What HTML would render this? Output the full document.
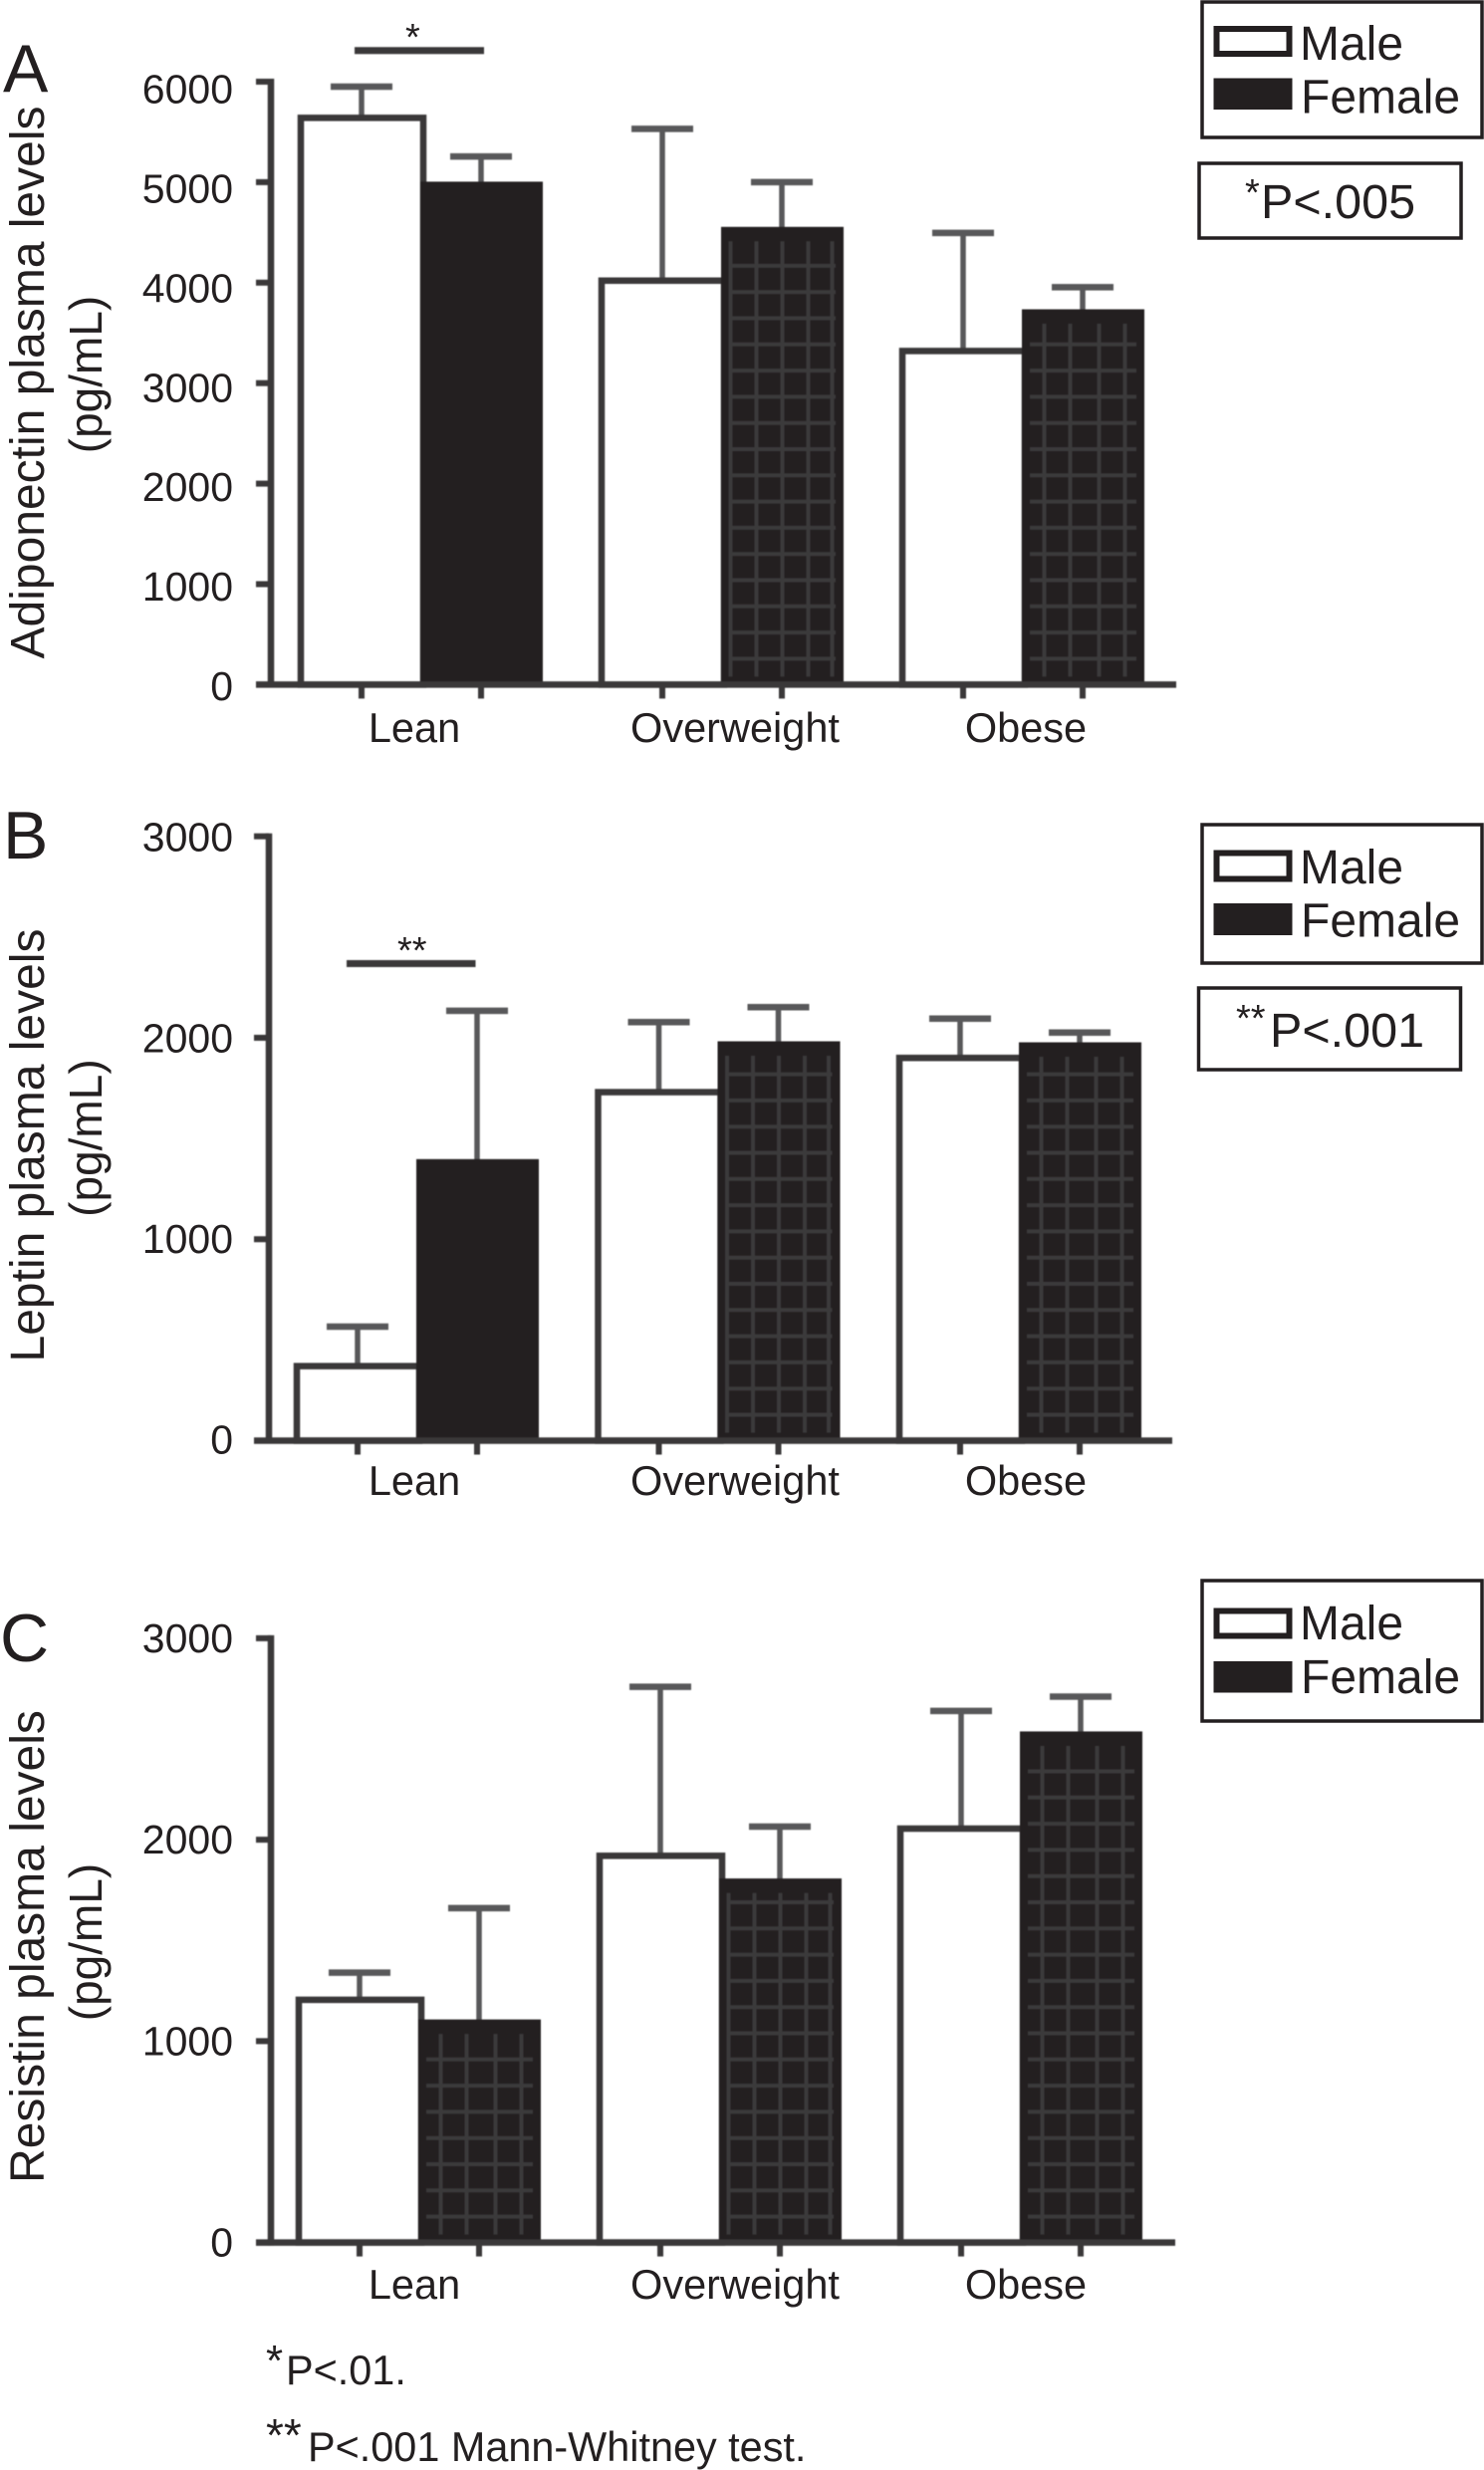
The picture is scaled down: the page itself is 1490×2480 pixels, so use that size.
<!DOCTYPE html>
<html lang="en">
<head>
<meta charset="utf-8">
<title>Adipokine plasma levels by BMI category and sex</title>
<style>
  html,body{margin:0;padding:0;background:#fff;}
  svg{display:block;}
  text{font-family:"Liberation Sans",Arial,sans-serif;fill:#231f20;}
  .marks{filter:blur(0.6px);}
  .tick{font-size:41px;text-anchor:end;}
  .cat{font-size:41.5px;text-anchor:middle;}
  .letter{font-size:68px;}
  .title{font-size:48px;text-anchor:middle;}
  .unit{font-size:46px;text-anchor:middle;}
  .leg{font-size:48px;}
  .ptext{font-size:48.5px;}
  .star{font-size:38px;}
  .foot{font-size:41.4px;}
  .box{fill:#fff;stroke:#231f20;stroke-width:3.5;}
</style>
</head>
<body>
<svg id="figure" xmlns="http://www.w3.org/2000/svg" width="1490" height="2480" viewBox="0 0 1490 2480">
  <rect x="0" y="0" width="1490" height="2480" fill="#fff"/>

  <!-- Panel letters and axis titles -->
  <text class="letter" x="3" y="92">A</text>
  <text class="letter" x="3" y="862">B</text>
  <text class="letter" x="0" y="1668">C</text>

  <text class="title" transform="translate(44 384) rotate(-90)">Adiponectin plasma levels</text>
  <text class="unit" transform="translate(102 376) rotate(-90)">(pg/mL)</text>
  <text class="title" transform="translate(44 1150) rotate(-90)">Leptin plasma levels</text>
  <text class="unit" transform="translate(102 1142.6) rotate(-90)">(pg/mL)</text>
  <text class="title" transform="translate(44 1954.5) rotate(-90)">Resistin plasma levels</text>
  <text class="unit" transform="translate(102 1950) rotate(-90)">(pg/mL)</text>

  <!-- Legends -->
  <g>
    <rect class="box" x="1207" y="2" width="281" height="136"/>
    <rect x="1221.5" y="29" width="73" height="25" fill="#fff" stroke="#231f20" stroke-width="6"/>
    <rect x="1218.5" y="78.5" width="79" height="31.5" fill="#231f20"/>
    <text class="leg" x="1305" y="60">Male</text>
    <text class="leg" x="1306" y="113.5">Female</text>
  </g>
  <g>
    <rect class="box" x="1207" y="828" width="281" height="139"/>
    <rect x="1221.5" y="856.5" width="73" height="26" fill="#fff" stroke="#231f20" stroke-width="6"/>
    <rect x="1218.5" y="907" width="79" height="32" fill="#231f20"/>
    <text class="leg" x="1305" y="887">Male</text>
    <text class="leg" x="1306" y="940.5">Female</text>
  </g>
  <g>
    <rect class="box" x="1207" y="1587" width="281" height="141"/>
    <rect x="1221.5" y="1617.5" width="73" height="25" fill="#fff" stroke="#231f20" stroke-width="6"/>
    <rect x="1218.5" y="1668" width="79" height="31.5" fill="#231f20"/>
    <text class="leg" x="1305" y="1646">Male</text>
    <text class="leg" x="1306" y="1700">Female</text>
  </g>

  <!-- P value boxes -->
  <g>
    <rect class="box" x="1204" y="164" width="263" height="75"/>
    <text class="star" x="1250" y="206">*</text>
    <text class="ptext" x="1266" y="219">P&lt;.005</text>
  </g>
  <g>
    <rect class="box" x="1203.5" y="992" width="263" height="82"/>
    <text class="star" x="1241" y="1035">**</text>
    <text class="ptext" x="1275" y="1051">P&lt;.001</text>
  </g>

  <!-- Significance brackets -->
  <g class="marks">
    <line x1="356" x2="486" y1="50.7" y2="50.7" stroke="#3a3839" stroke-width="7"/>
    <line x1="348" x2="477.5" y1="967.5" y2="967.5" stroke="#3a3839" stroke-width="7"/>
  </g>
  <text class="star" x="407" y="50">*</text>
  <text class="star" x="399" y="967">**</text>

  <!-- Footnotes -->
  <text x="267" y="2385" style="font-size:44px">*</text>
  <text class="foot" x="287" y="2394">P&lt;.01.</text>
  <text x="267" y="2461" style="font-size:46px">**</text>
  <text class="foot" x="309" y="2471">P&lt;.001 Mann-Whitney test.</text>

  <g id="charts"></g>
</svg>

<script>
// ---- data ----
const categories = ["Lean", "Overweight", "Obese"];

const adiponectinTicks = [0, 1000, 2000, 3000, 4000, 5000, 6000];
const adiponectinMale = [5640, 4020, 3320];
const adiponectinFemale = [5000, 4550, 3730];
const adiponectinMaleUpper = [5950, 5530, 4495];
const adiponectinFemaleUpper = [5255, 5000, 3955];
const adiponectinFemaleHatched = [false, true, true];

const leptinTicks = [0, 1000, 2000, 3000];
const leptinMale = [370, 1730, 1900];
const leptinFemale = [1395, 1980, 1975];
const leptinMaleUpper = [566, 2078, 2095];
const leptinFemaleUpper = [2134, 2152, 2026];
const leptinFemaleHatched = [false, true, true];

const resistinTicks = [0, 1000, 2000, 3000];
const resistinMale = [1205, 1920, 2055];
const resistinFemale = [1105, 1805, 2535];
const resistinMaleUpper = [1340, 2759, 2639];
const resistinFemaleUpper = [1660, 2065, 2710];
const resistinFemaleHatched = [true, true, true];

// ---- panel geometry ----
const panelA = {id:'a', axisX:272, axisEnd:1181, firstBar:299, groupStep:302, yMax:6000, yTop:82, yZero:687.4,
  labelTop:89.5, labelZero:689, catBaseline:745,
  ticks:adiponectinTicks, male:adiponectinMale, female:adiponectinFemale,
  maleUp:adiponectinMaleUpper, femaleUp:adiponectinFemaleUpper, hatched:adiponectinFemaleHatched};
const panelB = {id:'b', axisX:270, axisEnd:1177, firstBar:295, groupStep:302.5, yMax:3000, yTop:839.7, yZero:1446.5,
  labelTop:840.7, labelZero:1445.5, catBaseline:1501,
  ticks:leptinTicks, male:leptinMale, female:leptinFemale,
  maleUp:leptinMaleUpper, femaleUp:leptinFemaleUpper, hatched:leptinFemaleHatched};
const panelC = {id:'c', axisX:272, axisEnd:1180, firstBar:297, groupStep:302, yMax:3000, yTop:1644.9, yZero:2251.6,
  labelTop:1645, labelZero:2251.6, catBaseline:2308,
  ticks:resistinTicks, male:resistinMale, female:resistinFemale,
  maleUp:resistinMaleUpper, femaleUp:resistinFemaleUpper, hatched:resistinFemaleHatched};

const SVG_NS = 'http://www.w3.org/2000/svg';
const BAR_W = 123;
const DARK = '#231f20';
const AXIS = '#3a3839';
const ERR = '#58585a';
const HATCH = '#3b3a3b';
const HATCH_STEP = 26.3;

function mk(parent, tag, attrs) {
  const el = document.createElementNS(SVG_NS, tag);
  for (const k in attrs) el.setAttribute(k, attrs[k]);
  parent.appendChild(el);
  return el;
}

function drawHatch(g, left, top, zero, catIndex) {
  const center = left + BAR_W / 2;
  const offsets = catIndex === 1 ? [-52, -26, 0, 26, 50] : [-39, -13, 16, 42];
  offsets.forEach(function (o) {
    const v = mk(g, 'line', {x1: center + o, x2: center + o, y1: top + 14, y2: zero - 8, stroke: HATCH, 'stroke-width': 4});
    
    
  });
  for (let y = zero - 26; y > top + 18; y -= HATCH_STEP) {
    const h = mk(g, 'line', {x1: left + 8, x2: left + BAR_W - 8, y1: y, y2: y, stroke: HATCH, 'stroke-width': 4});
    
    
  }
}

function drawError(g, cx, fromY, toY) {
  const stem = mk(g, 'line', {x1: cx, x2: cx, y1: fromY, y2: toY, stroke: ERR, 'stroke-width': 5.5});
  
  
  const cap = mk(g, 'line', {x1: cx - 31, x2: cx + 31, y1: toY, y2: toY, stroke: ERR, 'stroke-width': 6.5});
  
  
}

function drawPanel(p) {
  const root = document.getElementById('charts');
  const group = mk(root, 'g', {});
  
  
  const marks = mk(group, 'g', {class: 'marks'});
  
  

  const y = function (v) { return p.yZero - (v / p.yMax) * (p.yZero - p.yTop); };
  const labelY = function (v) { return p.labelZero - (v / p.yMax) * (p.labelZero - p.labelTop) + 14; };
  const maleLeft = function (i) { return p.firstBar + i * p.groupStep; };
  const femaleLeft = function (i) { return maleLeft(i) + BAR_W; };
  const maleCenter = function (i) { return maleLeft(i) + 64; };
  const femaleCenter = function (i) { return femaleLeft(i) + 61; };

  categories.forEach(function (c, i) {
    // error bars sit behind the bars
    drawError(marks, maleCenter(i), y(p.male[i]), y(p.maleUp[i]));
    drawError(marks, femaleCenter(i), y(p.female[i]), y(p.femaleUp[i]));

    const m = mk(marks, 'rect', {x: maleLeft(i) + 3, y: y(p.male[i]), width: BAR_W, height: p.yZero - y(p.male[i]), fill: '#fff', stroke: AXIS, 'stroke-width': 6.5});
    
    

    const f = mk(marks, 'rect', {x: femaleLeft(i), y: y(p.female[i]) - 0.5, width: BAR_W, height: p.yZero - y(p.female[i]) + 0.5, fill: DARK});
    
    

    if (p.hatched[i]) drawHatch(marks, femaleLeft(i), y(p.female[i]), p.yZero, i);

    [maleCenter(i), femaleCenter(i)].forEach(function (tx) {
      const t = mk(marks, 'line', {x1: tx, x2: tx, y1: p.yZero, y2: p.yZero + 14, stroke: AXIS, 'stroke-width': 6});
      
      
    });

    const nudge = c === 'Lean' ? -7 : (c === 'Overweight' ? 13 : 3);
    const lab = mk(group, 'text', {class: 'cat', x: 423 + i * 302 + nudge, y: p.catBaseline});
    lab.textContent = c;
    
    
  });

  const yAxis = mk(marks, 'line', {x1: p.axisX, x2: p.axisX, y1: p.yTop - 3, y2: p.yZero + 3, stroke: AXIS, 'stroke-width': 6.5});
  
  
  const xAxis = mk(marks, 'line', {x1: p.axisX - 15, x2: p.axisEnd, y1: p.yZero, y2: p.yZero, stroke: AXIS, 'stroke-width': 6.5});
  
  

  p.ticks.forEach(function (t) {
    const tk = mk(marks, 'line', {x1: p.axisX - 15, x2: p.axisX, y1: y(t), y2: y(t), stroke: AXIS, 'stroke-width': 6});
    
    
    const lb = mk(group, 'text', {class: 'tick', x: 234, y: labelY(t)});
    lb.textContent = String(t);
    
    
  });
}

drawPanel(panelA);
drawPanel(panelB);
drawPanel(panelC);
</script>
</body>
</html>
